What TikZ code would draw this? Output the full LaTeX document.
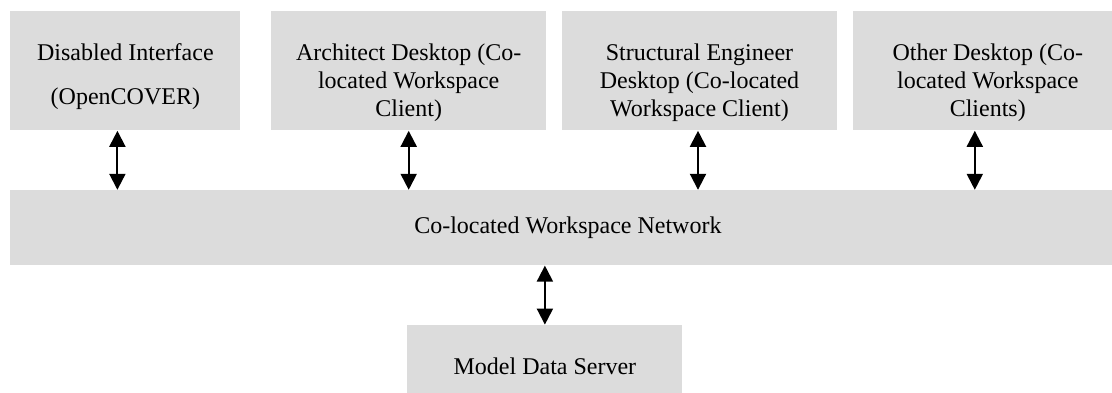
\documentclass[tikz,border=0pt]{standalone}
\usepackage{fontspec}
\setmainfont{Liberation Serif}
\usetikzlibrary{arrows.meta, positioning}
\definecolor{boxgray}{RGB}{220,220,220}

\begin{document}
\begin{tikzpicture}[x=0.5pt, y=-0.5pt,
					greybox/.style={rectangle,
					fill=boxgray,
					inner sep=0pt,
					minimum height=59.5pt},
					boxtext/.style={align=center,
					inner sep=0pt,
					anchor=north,
					yshift=-16pt,
					font=\fontsize{12}{14}\selectfont},
					linkarrow/.style={{Triangle[length=8pt,width=8pt]}-{Triangle[length=8pt,width=8pt]},
					line width=1pt,
					black}
					]

% page size of the original figure
\useasboundingbox (0,0) rectangle (1112,392);

% desktop nodes
\node[greybox, minimum width=115pt, anchor=north west] (dis) at (10,11) {};
\node[greybox, minimum width=137.5pt] (arch) [right=15pt of dis] {};
\node[greybox, minimum width=137.5pt] (struct) [right=7.5pt of arch] {};
\node[greybox, minimum width=135pt] (other) [right=7.5pt of struct] {};

% desktop texts
\node[boxtext] (distext) at (dis.north) {Disabled Interface\\[8pt](OpenCOVER)};
\node[boxtext] (archtext) at (arch.north) {Architect Desktop (Co-\\located Workspace\\Client)};
\node[boxtext] (structtext) at (struct.north) {Structural Engineer\\Desktop (Co-located\\Workspace Client)};
\node[boxtext] (othertext) at (other.north) {Other Desktop (Co-\\located Workspace\\Clients)};

% network and server nodes
\node[greybox, minimum width=557.5pt, minimum height=37.5pt, font=\fontsize{12}{14}\selectfont] (net) [below=29.5pt of dis.south west, anchor=north west] {Co-located Workspace Network};
\node[greybox, minimum width=137.5pt, minimum height=41pt, font=\fontsize{12}{14}\selectfont] (server) [below=29.5pt of net, xshift=-11.5pt] {Model Data Server};

% arrows desktop to network
\draw[linkarrow] ([xshift=-4pt]dis.south) -- ([xshift=-4pt]dis.south |- net.north);
\draw[linkarrow] (arch.south) -- (arch.south |- net.north);
\draw[linkarrow] ([xshift=-0.75pt]struct.south) -- ([xshift=-0.75pt]struct.south |- net.north);
\draw[linkarrow] ([xshift=-6.5pt]other.south) -- ([xshift=-6.5pt]other.south |- net.north);

% arrow network to server
\draw[linkarrow] (server.north) -- (server.north |- net.south);

\end{tikzpicture}
\end{document}
